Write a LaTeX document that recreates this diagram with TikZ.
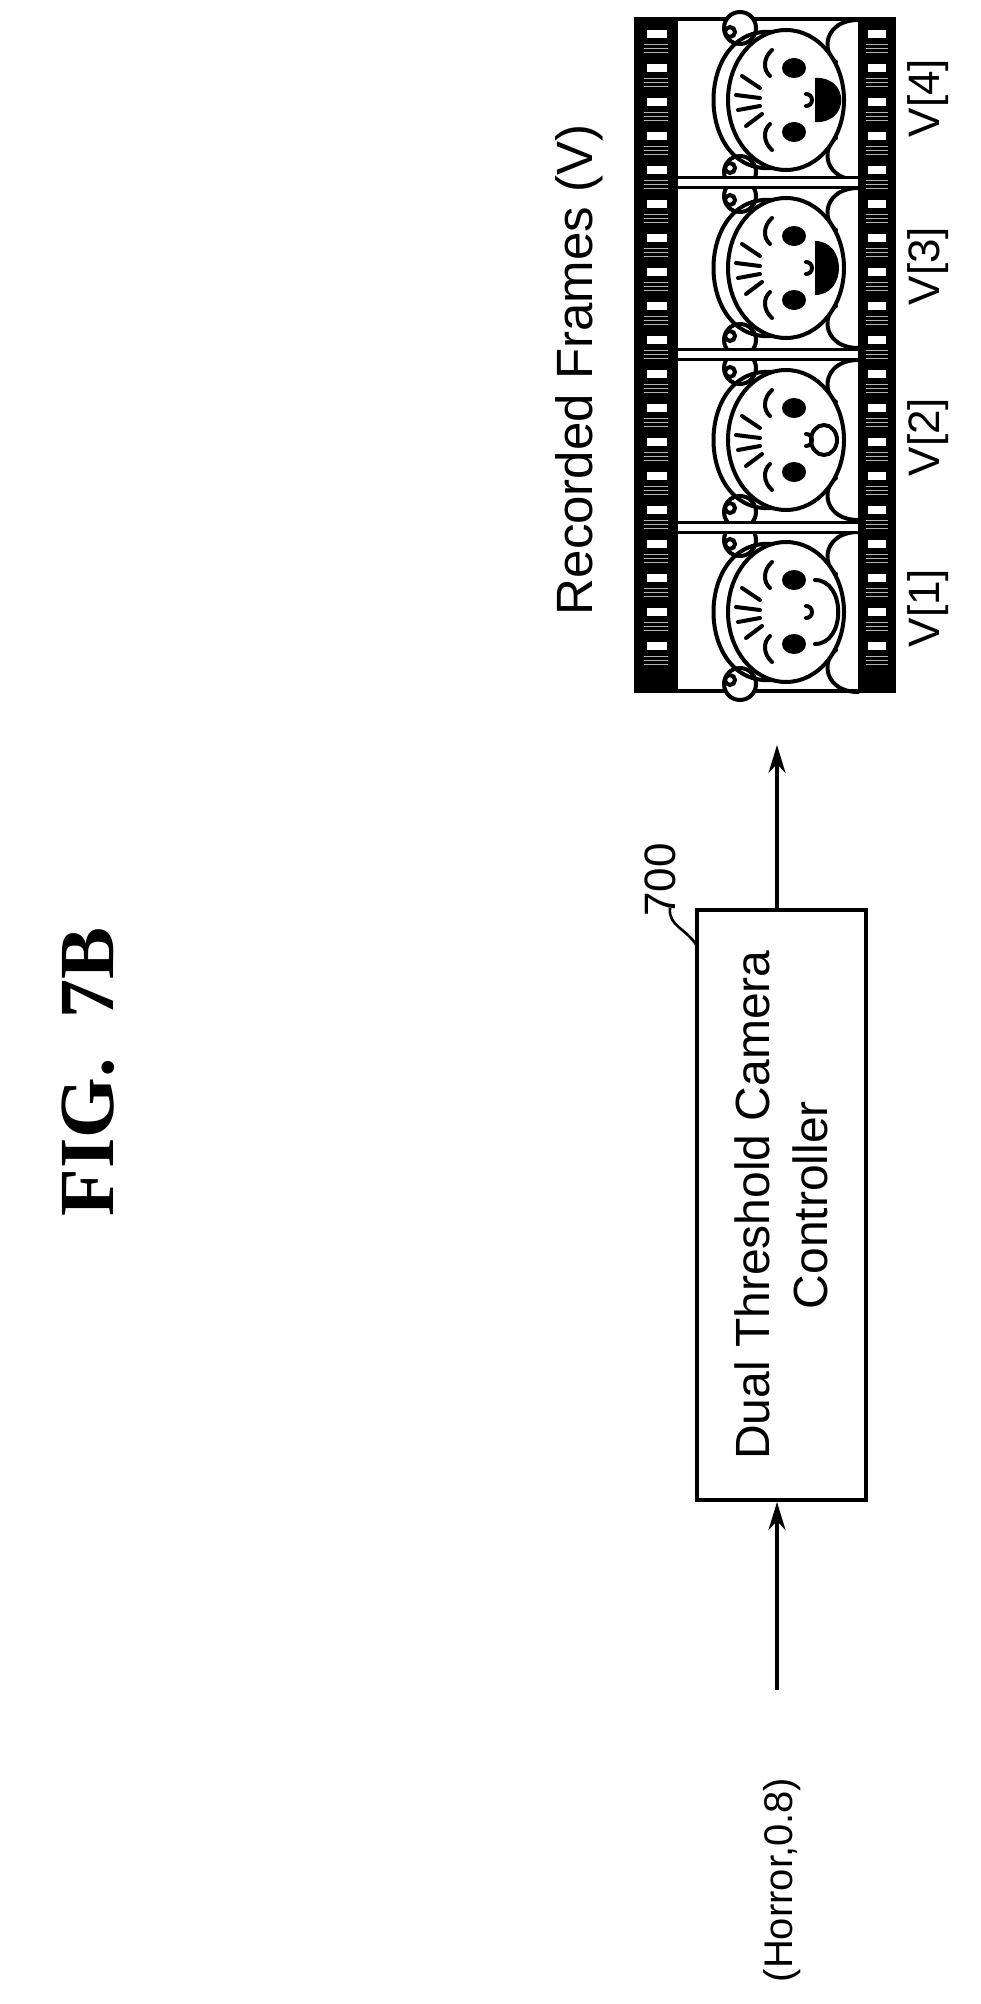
\documentclass[tikz,border=0pt]{standalone}
\usepackage{fontspec}
\setmainfont{Liberation Sans}
\newfontfamily\figfont{Liberation Serif}
\usetikzlibrary{arrows.meta}
\tikzset{
  lbl/.style={rotate=90,inner sep=0pt,align=center},
  conn/.style={line width=3.6pt,-{Stealth[length=28pt,width=17pt]}},
  ln/.style={line width=4pt,line cap=round}
}
\newcommand{\myface}[2]{%
\begin{scope}[shift={(0,#1)}]
  \draw[ln] (858,-80) .. controls (826,-80) and (820,-50) .. (836,-38);
  \draw[ln] (858,80) .. controls (826,80) and (820,50) .. (836,38);
  \draw[ln,fill=white] (740,-72) circle (16);
  \draw[ln,fill=white] (740,72) circle (16);
  \draw[ln,fill=white] (730,-68) circle (5);
  \draw[ln,fill=white] (730,68) circle (5);
  \draw[ln] (772,-68) .. controls (694,-74) and (694,74) .. (772,68);
  \draw[ln,fill=white] (786,0) ellipse (58 and 70);
  \draw[ln] (742,-24) -- (760,-12); \draw[ln] (736,-5) -- (760,-2);
  \draw[ln] (738,10) -- (760,6); \draw[ln] (746,26) -- (762,14);
  \fill (794,-32) ellipse (12 and 10);
  \fill (794,32) ellipse (12 and 10);
  \draw[ln] (772,-50) .. controls (763,-42) and (763,-30) .. (770,-24);
  \draw[ln] (772,50) .. controls (763,42) and (763,30) .. (770,24);
  \draw[ln] (806,-6) arc (-90:90:6);
  #2
\end{scope}}
\begin{document}
\begin{tikzpicture}[x=1pt,y=-1pt]
\useasboundingbox (0,0) rectangle (980,2004);
% title
\node[lbl,font=\figfont\bfseries\fontsize{78}{78}\selectfont] (title) at (88,1072) {FIG.\ \ 7B};
% controller
\draw[line width=3.6pt] (697,910) rectangle (866,1500);
\node[lbl,font=\fontsize{48}{58}\selectfont] (ctrl) at (781,1205) {Dual Threshold Camera\\Controller};
\coordinate (bottom) at (777,1502);
\coordinate (top) at (777,908);
\node[lbl,font=\fontsize{44}{44}\selectfont] (num) at (660,880) {700};
\draw[line width=2.6pt] (697,946) .. controls (686,928) and (668,926) .. (670,908);
% input
\node[lbl,font=\fontsize{40}{40}\selectfont] (hor) at (782,1880) {(Horror,0.8)};
\coordinate (hin) at (777,1690);
\draw[conn] (hin) -- (bottom);
\coordinate (out) at (777,745);
\draw[conn] (top) -- (out);
% film strip
\fill (636,19) rectangle (676,691);
\fill (860,19) rectangle (894,691);
\foreach \y in {30,64,...,670} {
  \fill[white] (647,\y) rectangle (667,\y+8);
  \fill[white] (868,\y) rectangle (886,\y+8);
  \foreach \d in {14,18,22} {
    \fill[gray!60] (644,\y+\d) rectangle (668,\y+\d+1.2);
    \fill[gray!60] (866,\y+\d) rectangle (888,\y+\d+1.2);
  }
}
\draw[line width=4pt] (636,19) rectangle (894,691);
\myface{100}{\fill (815,-22) .. controls (850,-24) and (850,24) .. (815,22) -- cycle;}
\myface{268}{\fill (815,-27) .. controls (847,-27) and (847,27) .. (815,27) -- cycle;}
\myface{440}{\draw[ln] (824,0) ellipse (13 and 15);}
\myface{612}{\draw[ln] (815,-32) .. controls (846,-32) and (846,32) .. (815,32);}
\foreach \y in {183,354,527} {
  \fill[white] (676,\y-5) rectangle (860,\y+5);
  \draw[line width=3pt] (676,\y-5) -- (860,\y-5);
  \draw[line width=3pt] (676,\y+5) -- (860,\y+5);
}
\draw[line width=4pt] (676,19) -- (676,691);
\draw[line width=4pt] (860,19) -- (860,691);
\node[lbl,font=\fontsize{51}{51}\selectfont] (rec) at (579,370) {Recorded Frames (V)};
\node[lbl,font=\fontsize{44}{44}\selectfont] (v1) at (928,608) {V[1]};
\node[lbl,font=\fontsize{44}{44}\selectfont] (v2) at (928,437) {V[2]};
\node[lbl,font=\fontsize{44}{44}\selectfont] (v3) at (928,266) {V[3]};
\node[lbl,font=\fontsize{44}{44}\selectfont] (v4) at (928,98) {V[4]};
\end{tikzpicture}
\end{document}
